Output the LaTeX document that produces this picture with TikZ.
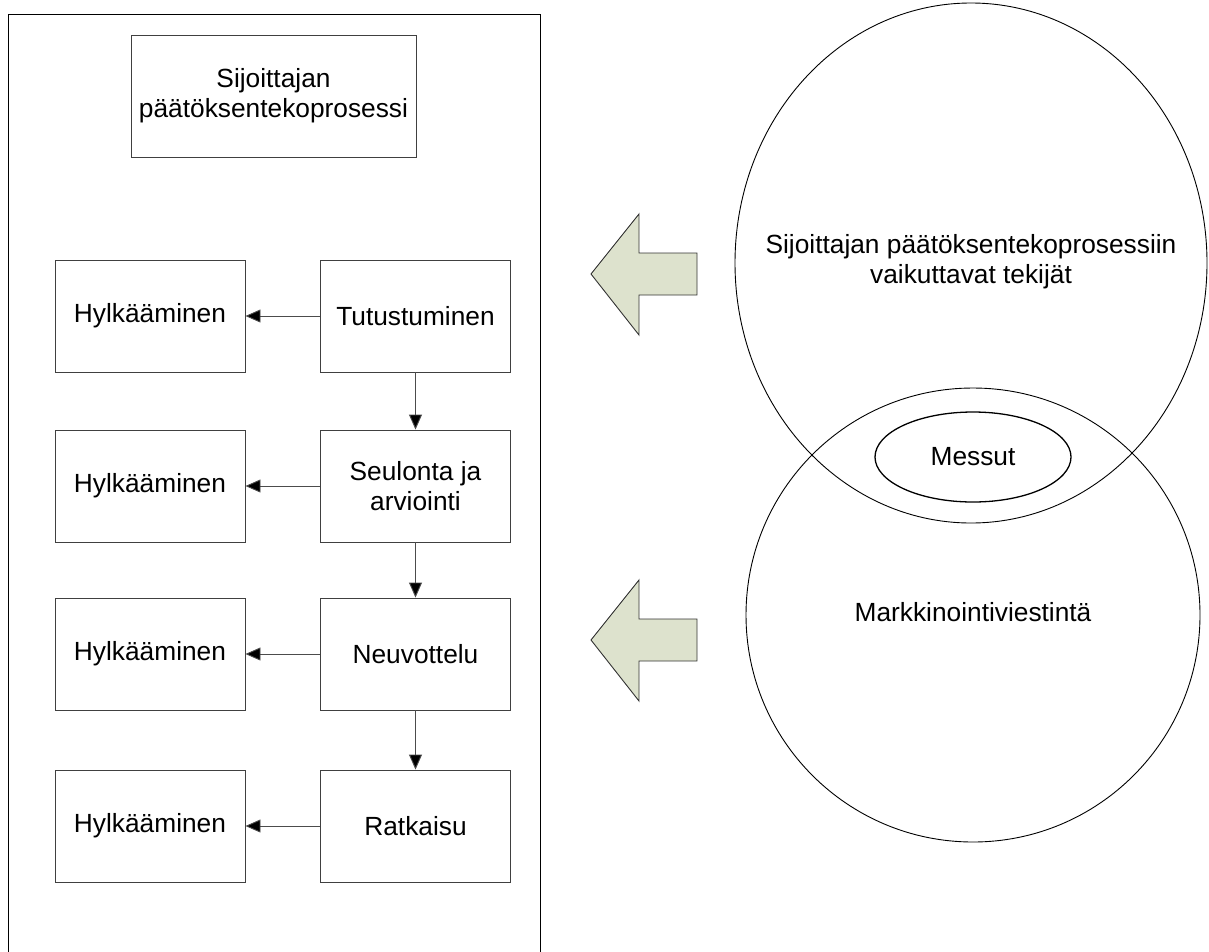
\documentclass[tikz,border=0pt]{standalone}
\usepackage{fontspec}
\setmainfont{Liberation Sans}
\usetikzlibrary{arrows.meta,shapes.geometric}
\definecolor{arrowfill}{HTML}{DDE2CD}
\begin{document}
\begin{tikzpicture}[x=1pt,y=-1pt,
  box/.style={draw=black!75,line width=0.9pt,minimum width=190pt,minimum height=112pt,inner sep=0pt,font=\fontsize{26.3}{30}\selectfont,align=center},
  conn/.style={draw=black!70,line width=0.9pt,-{Triangle[length=15pt,width=13pt,fill=black]}},
  blockarrow/.style={draw=black!80,fill=arrowfill,line width=0.9pt,line join=miter},
  ring/.style={draw=black,line width=0.9pt},
  lbl/.style={font=\fontsize{26.3}{30}\selectfont,align=center}]
\useasboundingbox (0,0) rectangle (1209,951);
% outer frame (open at the bottom edge of the picture)
\draw[line width=1pt] (8,960) -- (8,14.5) -- (540,14.5) -- (540,960);
% title box
\node[box,minimum width=285pt,minimum height=122pt] (title) at (273.5,96) {Sijoittajan\\päätöksentekoprosessi};
% process boxes
\node[box] (t) at (415.5,316) {Tutustuminen};
\node[box] (s) at (415.5,486) {Seulonta ja\\arviointi};
\node[box] (n) at (415.5,654) {Neuvottelu};
\node[box] (r) at (415.5,826) {Ratkaisu};
\node[box] (h1) at (150,316) {Hylkääminen};
\node[box] (h2) at (150,486) {Hylkääminen};
\node[box] (h3) at (150,654) {Hylkääminen};
\node[box] (h4) at (150,826) {Hylkääminen};
\draw[conn] (t) -- (h1);
\draw[conn] (s) -- (h2);
\draw[conn] (n) -- (h3);
\draw[conn] (r) -- (h4);
\draw[conn] (t) -- (s);
\draw[conn] (s) -- (n);
\draw[conn] (n) -- (r);
% block arrows
\draw[blockarrow] (591,274) -- (639,214) -- (639,253) -- (697,253) -- (697,295) -- (639,295) -- (639,335) -- cycle;
\draw[blockarrow] (591,640) -- (639,580) -- (639,619) -- (697,619) -- (697,661) -- (639,661) -- (639,701) -- cycle;
% circles
\draw[ring] (971,263) ellipse [x radius=236, y radius=260];
\draw[ring] (973,615) circle [radius=227];
\node[lbl] (upper) at (971,262) {Sijoittajan päätöksentekoprosessiin\\vaikuttavat tekijät};
\node[lbl] (lower) at (973,612) {Markkinointiviestintä};
\node[ellipse,draw,line width=1.3pt,minimum width=196pt,minimum height=90pt,lbl] (m) at (973,457) {Messut};
\end{tikzpicture}
\end{document}
